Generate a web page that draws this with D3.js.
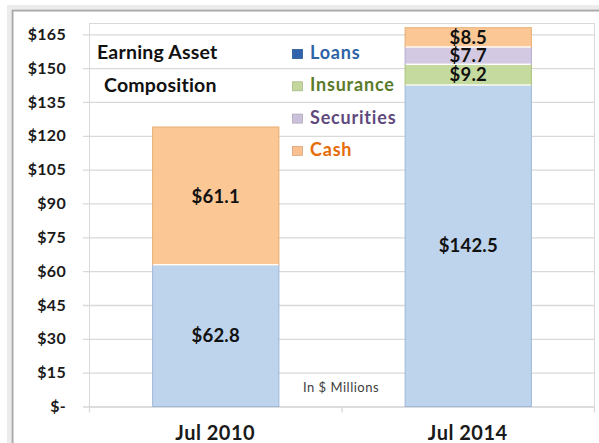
<!DOCTYPE html>
<html>
<head>
<meta charset="utf-8">
<script src="https://cdn.jsdelivr.net/npm/d3@7"></script>
<style>
  html, body { margin: 0; padding: 0; background: #ffffff; }
  svg { display: block; }
  text { font-family: Lato, "Open Sans", sans-serif; }
</style>
</head>
<body>
<svg id="chart" width="599" height="443"></svg>
<script>
// ---- data ----
const categories = ["Jul 2010", "Jul 2014"];
const seriesNames = ["Loans", "Insurance", "Securities", "Cash"];
const loans = [62.8, 142.5];
const insurance = [0, 9.2];
const securities = [0, 7.7];
const cash = [61.1, 8.5];
const yTickValues = [0, 15, 30, 45, 60, 75, 90, 105, 120, 135, 150, 165];
const titleLines = ["Earning Asset", "Composition"];
const unitNote = "In $ Millions";

// ---- styles ----
const barFill = { Loans: "#bed3ec", Insurance: "#c5da9e", Securities: "#d3c9e2", Cash: "#fac795" };
const barEdge = { Loans: "#9fb8d8", Insurance: "#a9c27c", Securities: "#b6a8cc", Cash: "#e9ad72" };
const legendText = { Loans: "#2f63a6", Insurance: "#5a7a2a", Securities: "#60497d", Cash: "#e46c0a" };
const legendSwatch = { Loans: "#2f64ad", Insurance: "#c3d69b", Securities: "#ccc1da", Cash: "#fac090" };

const svg = d3.select("#chart");

// outer frame (shadowed border)
svg.append("rect").attr("x", 9).attr("y", 7).attr("width", 620).attr("height", 470)
  .attr("fill", "none").attr("stroke", "#ececec").attr("stroke-width", 4);
svg.append("rect").attr("x", 12.5).attr("y", 10.5).attr("width", 620).attr("height", 470)
  .attr("fill", "#ffffff").attr("stroke", "#a9a9a9").attr("stroke-width", 2);

const plot = { left: 89, right: 594, top: 23, bottom: 406.5 };

const x = d3.scaleBand().domain(categories).range([plot.left, plot.right])
  .paddingInner(0.5).paddingOuter(0.25);
const y = d3.scaleLinear().domain([0, 170]).range([plot.bottom, plot.top]);

// plot area border
svg.append("rect").attr("x", plot.left + 0.5).attr("y", plot.top + 0.5)
  .attr("width", plot.right - plot.left).attr("height", plot.bottom - plot.top)
  .attr("fill", "none").attr("stroke", "#d9d9d9").attr("stroke-width", 1);

// y axis: gridlines + labels
const gy = svg.append("g").attr("transform", `translate(${plot.left - 6},0)`);
gy.call(d3.axisLeft(y).tickValues(yTickValues).tickSize(0).tickPadding(17)
  .tickFormat(d => d === 0 ? "$-" : "$" + d));
gy.select(".domain").remove();
gy.selectAll(".tick text").attr("font-family", "Lato, sans-serif").attr("font-weight", "bold")
  .attr("font-size", 16).attr("letter-spacing", 0.3).attr("fill", "#1a1a1a");
gy.selectAll(".tick").append("line")
  .attr("x1", 0).attr("x2", plot.right - plot.left + 6)
  .attr("stroke", "#d9d9d9").attr("stroke-width", 1.3);

// x axis ticks (category boundaries)
const boundaries = [plot.left, (plot.left + plot.right) / 2, plot.right];
svg.append("g").selectAll("line").data(boundaries).join("line")
  .attr("x1", d => d + 0.5).attr("x2", d => d + 0.5)
  .attr("y1", plot.bottom).attr("y2", plot.bottom + 6)
  .attr("stroke", "#d9d9d9").attr("stroke-width", 1.3);

const xAxis = svg.append("g").attr("transform", `translate(0,${plot.bottom})`)
  .call(d3.axisBottom(x).tickSize(0).tickPadding(19));
xAxis.select(".domain").remove();
xAxis.selectAll(".tick text").attr("font-family", "Lato, sans-serif").attr("font-weight", "bold")
  .attr("font-size", 20).attr("letter-spacing", 0.5).attr("fill", "#1a1a1a");

// stacked bars
const table = categories.map((c, i) => ({
  cat: c, Loans: loans[i], Insurance: insurance[i], Securities: securities[i], Cash: cash[i]
}));
const stacked = d3.stack().keys(seriesNames)(table);

const bars = svg.append("g");
stacked.forEach(layer => {
  const key = layer.key;
  layer.forEach(seg => {
    const v = seg[1] - seg[0];
    if (v <= 0) return;
    bars.append("rect")
      .attr("x", x(seg.data.cat) + 0.5)
      .attr("y", y(seg[1]))
      .attr("width", x.bandwidth())
      .attr("height", y(seg[0]) - y(seg[1]))
      .attr("fill", barFill[key])
      .attr("stroke", barEdge[key]).attr("stroke-width", 1);
  });
});
// white separators between segments
stacked.forEach((layer, li) => {
  if (li === 0) return;
  layer.forEach(seg => {
    if (seg[1] - seg[0] <= 0) return;
    bars.append("line")
      .attr("x1", x(seg.data.cat) + 1).attr("x2", x(seg.data.cat) + x.bandwidth())
      .attr("y1", y(seg[0])).attr("y2", y(seg[0]))
      .attr("stroke", "#ffffff").attr("stroke-width", 1.5);
  });
});

// value labels
const labels = svg.append("g");
stacked.forEach(layer => {
  layer.forEach(seg => {
    const v = seg[1] - seg[0];
    if (v <= 0) return;
    labels.append("text")
      .attr("x", x(seg.data.cat) + x.bandwidth() / 2 + 0.5)
      .attr("y", y((seg[0] + seg[1]) / 2))
      .attr("dy", "0.36em")
      .attr("text-anchor", "middle")
      .attr("font-weight", "bold").attr("font-size", 18.5).attr("letter-spacing", 0.2)
      .attr("fill", "#111111")
      .text("$" + d3.format(".1f")(v));
  });
});

// title
const title = svg.append("g");
title.append("text").attr("x", 97).attr("y", 59).attr("font-weight", "bold")
  .attr("font-size", 19.5).attr("letter-spacing", 0.2).attr("fill", "#111111").text(titleLines[0]);
title.append("text").attr("x", 104).attr("y", 92).attr("font-weight", "bold")
  .attr("font-size", 19.5).attr("letter-spacing", 0.2).attr("fill", "#111111").text(titleLines[1]);

// legend
const legend = svg.append("g");
seriesNames.forEach((name, i) => {
  const by = 59 + i * 32.3;
  legend.append("rect").attr("x", 292.5).attr("y", by - 9.5).attr("width", 10).attr("height", 9)
    .attr("fill", legendSwatch[name]).attr("stroke", d3.color(legendSwatch[name]).darker(0.4)).attr("stroke-width", 0.8);
  legend.append("text").attr("x", 310).attr("y", by).attr("font-weight", "bold")
    .attr("font-size", 18).attr("letter-spacing", 0.8).attr("fill", legendText[name]).text(name);
});

// unit note
svg.append("text").attr("x", 303).attr("y", 392).attr("font-size", 13).attr("letter-spacing", 0.5)
  .attr("fill", "#404040").text(unitNote);
</script>
</body>
</html>
